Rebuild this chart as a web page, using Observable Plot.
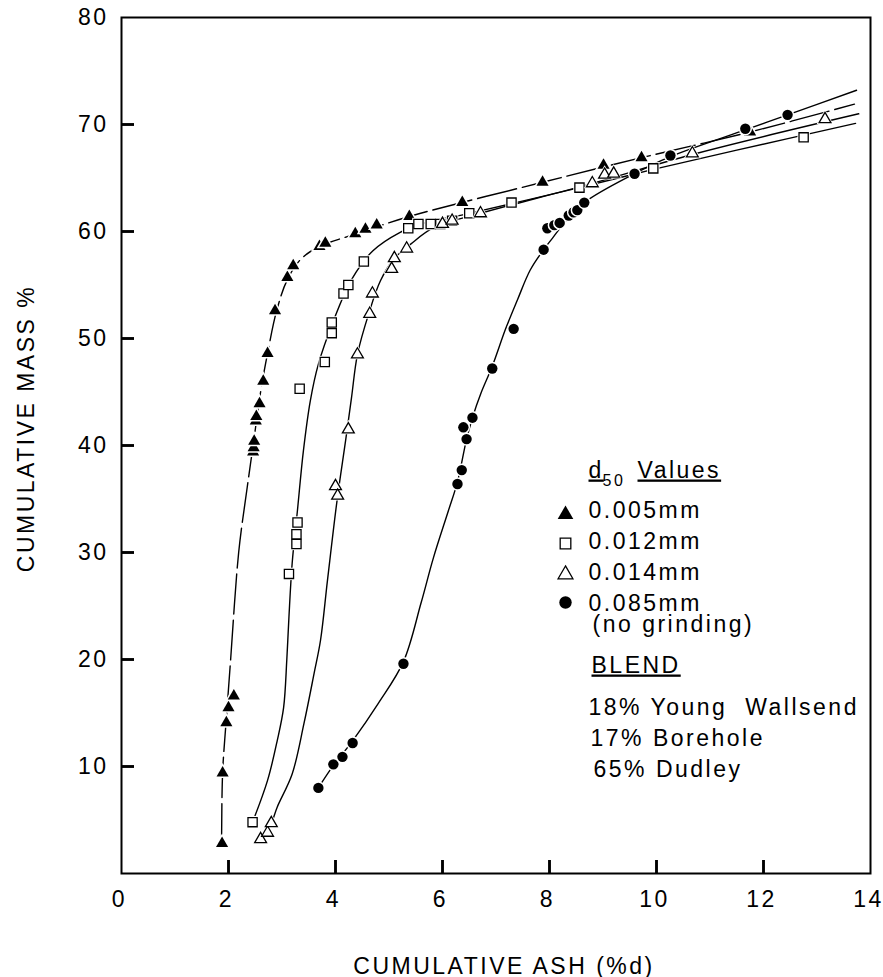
<!DOCTYPE html>
<html>
<head>
<meta charset="utf-8">
<script src="https://cdn.jsdelivr.net/npm/d3@7"></script>
<script src="https://cdn.jsdelivr.net/npm/@observablehq/plot@0.6"></script>
<style>
html, body { margin: 0; padding: 0; background: #fff; }
#chart { width: 883px; height: 977px; overflow: hidden; }
</style>
</head>
<body>
<div id="chart"></div>
<script>
// ---- data ----
const seriesNames = ["0.005mm", "0.012mm", "0.014mm", "0.085mm"];

// measured points (cumulative ash %d, cumulative mass %)
const ash005  = [1.88, 1.89, 1.96, 2.00, 2.10, 2.46, 2.47, 2.48, 2.51, 2.52, 2.58, 2.65, 2.73, 2.87, 3.10, 3.21, 3.70, 3.81, 4.37, 4.56, 4.77, 5.38, 6.37, 7.87, 9.01, 9.72, 11.75];
const mass005 = [2.8, 9.4, 14.1, 15.5, 16.6, 39.4, 39.8, 40.4, 42.3, 42.7, 43.9, 46.0, 48.6, 52.6, 55.7, 56.8, 58.6, 58.9, 59.8, 60.2, 60.6, 61.4, 62.7, 64.6, 66.2, 66.9, 69.3];

const ash012  = [2.45, 3.13, 3.27, 3.27, 3.29, 3.33, 3.80, 3.93, 3.93, 4.15, 4.24, 4.53, 5.36, 5.55, 5.78, 5.96, 6.18, 6.50, 7.29, 8.56, 9.94, 12.75];
const mass012 = [4.8, 28.0, 30.8, 31.7, 32.8, 45.3, 47.8, 50.5, 51.5, 54.2, 55.0, 57.2, 60.3, 60.7, 60.7, 60.7, 61.0, 61.7, 62.7, 64.1, 65.9, 68.8];

const ash014  = [2.60, 2.73, 2.80, 4.00, 4.04, 4.24, 4.41, 4.64, 4.69, 5.05, 5.10, 5.33, 6.00, 6.18, 6.71, 8.80, 9.03, 9.20, 10.67, 13.15];
const mass014 = [3.2, 3.8, 4.7, 36.2, 35.3, 41.5, 48.5, 52.3, 54.2, 56.5, 57.5, 58.4, 60.7, 61.0, 61.7, 64.5, 65.3, 65.4, 67.3, 70.5];

const ash085  = [3.68, 3.96, 4.13, 4.32, 5.27, 6.28, 6.36, 6.45, 6.39, 6.56, 6.93, 7.33, 7.89, 7.96, 8.09, 8.19, 8.36, 8.45, 8.52, 8.65, 9.59, 10.26, 11.66, 12.45];
const mass085 = [8.0, 10.2, 10.9, 12.2, 19.6, 36.4, 37.7, 40.6, 41.7, 42.6, 47.2, 50.9, 58.3, 60.3, 60.6, 60.8, 61.5, 61.8, 62.0, 62.7, 65.4, 67.1, 69.6, 70.9];

// hand-drawn fitted curves
const fit005Ash  = [1.87, 1.89, 1.96, 2.04, 2.19, 2.35, 2.46, 2.60, 2.73, 2.90, 3.10, 3.35, 3.70, 4.40, 5.38, 7.87, 9.72, 11.75, 13.70];
const fit005Mass = [2.8, 9.4, 14.5, 20.0, 30.0, 36.1, 40.0, 45.0, 48.6, 52.6, 55.5, 57.4, 58.6, 59.8, 61.4, 64.6, 66.9, 69.3, 71.9];

const fit012Ash  = [2.45, 2.73, 2.91, 3.03, 3.09, 3.13, 3.19, 3.29, 3.40, 3.53, 3.68, 3.95, 4.30, 4.70, 5.20, 5.60, 6.50, 8.56, 9.94, 11.50, 13.72];
const fit012Mass = [4.8, 8.7, 12.4, 15.5, 20.0, 24.0, 29.0, 34.0, 39.5, 44.2, 47.6, 51.5, 55.5, 58.2, 59.9, 60.7, 61.7, 64.1, 65.8, 67.6, 70.1];

const fit014Ash  = [2.60, 2.80, 2.91, 3.19, 3.41, 3.60, 3.72, 3.85, 4.03, 4.19, 4.30, 4.41, 4.62, 4.84, 5.10, 5.40, 5.85, 6.71, 8.80, 10.67, 13.78];
const fit014Mass = [3.2, 4.7, 6.2, 9.3, 14.0, 18.7, 21.8, 27.4, 34.9, 40.5, 44.5, 48.5, 52.3, 55.4, 57.5, 58.8, 60.4, 61.7, 64.5, 67.2, 71.0];

const fit085Ash  = [3.68, 3.96, 4.32, 4.80, 5.27, 5.60, 5.83, 6.11, 6.28, 6.45, 6.56, 6.72, 6.93, 7.18, 7.40, 7.64, 7.89, 8.06, 8.26, 8.65, 9.59, 10.26, 11.66, 12.45, 13.74];
const fit085Mass = [8.0, 10.1, 12.4, 15.9, 19.8, 25.3, 29.5, 33.9, 36.6, 40.6, 42.6, 44.9, 47.4, 50.9, 53.6, 56.4, 58.3, 59.4, 60.7, 62.7, 65.4, 67.0, 69.5, 70.9, 73.2];

// axes
const xDomain = [0, 14];
const yDomain = [0, 80];
const xTickLabels = [0, 2, 4, 6, 8, 10, 12, 14];
const xTickMarks  = [2, 4, 6, 8, 10, 12];
const yTickLabels = [10, 20, 30, 40, 50, 60, 70, 80];
const yTickMarks  = [10, 20, 30, 40, 50, 60, 70];
const xLabel = "CUMULATIVE ASH (%d)";
const yLabel = "CUMULATIVE MASS %";

// legend texts
const legendTitle = ["d", "50", "Values"];
const legendNote = "(no grinding)";
const blendTitle = "BLEND";
const blendLines = ["18% Young  Wallsend", "17% Borehole", "65% Dudley"];

// ---- build ----
const W = 883, H = 977, ML = 121, MR = 13, MT = 17, MB = 104, TICK = 13;
const frameW = W - ML - MR, frameH = H - MT - MB;
// inward tick length expressed in scale units
const xTickLen = TICK * (xDomain[1] - xDomain[0]) / frameW;
const yTickLen = TICK * (yDomain[1] - yDomain[0]) / frameH;

const styles = [
  {symbol: "triangle", filled: true,  r: 4.5, lr: 5.8, dash: "40,6"},
  {symbol: "square",   filled: false, r: 5.2, lr: 6.0, dash: null},
  {symbol: "triangle", filled: false, r: 4.4, lr: 5.5, dash: null},
  {symbol: "circle",   filled: true,  r: 5.2, lr: 6.2, dash: null}
];
const pointSets = [[ash005, mass005], [ash012, mass012], [ash014, mass014], [ash085, mass085]];
const fitSets = [[fit005Ash, fit005Mass], [fit012Ash, fit012Mass], [fit014Ash, fit014Mass], [fit085Ash, fit085Mass]];
const toRows = ([xs, ys]) => xs.map((x, i) => ({ash: x, mass: ys[i]}));

const lineMarks = fitSets.map((f, k) =>
  Plot.line(toRows(f), {x: "ash", y: "mass", curve: "catmull-rom", stroke: "black", strokeWidth: 1.4,
    strokeDasharray: styles[k].dash || undefined}));

const dotMarks = pointSets.flatMap((p, k) => {
  const s = styles[k], rows = toRows(p);
  if (s.filled) {
    return [Plot.dot(rows, {x: "ash", y: "mass", symbol: s.symbol, r: s.r, fill: "black", stroke: "white", strokeWidth: 3, paintOrder: "stroke"})];
  }
  return [
    Plot.dot(rows, {x: "ash", y: "mass", symbol: s.symbol, r: s.r + 1.8, fill: "white", stroke: "none"}),
    Plot.dot(rows, {x: "ash", y: "mass", symbol: s.symbol, r: s.r, fill: "white", stroke: "black", strokeWidth: 1.3})
  ];
});

const txt = (t, dx, dy, extra = {}) =>
  Plot.text([t], {frameAnchor: "top-left", dx, dy, textAnchor: "start", lineAnchor: "bottom", fill: "black", ...extra});

const legendMarks = [
  txt(legendTitle[0], 467, 460),
  txt(legendTitle[1], 481, 468, {fontSize: 16}),
  txt(legendTitle[2], 516, 460),
  ...seriesNames.map((n, k) => txt(n, 467, 500 + 31 * k)),
  txt(legendNote, 471, 614),
  ...styles.map((s, k) => Plot.dot([k], {frameAnchor: "top-left", dx: 444, dy: [497, 526, 557, 585][k],
      symbol: s.symbol, r: s.lr, fill: s.filled ? "black" : "white", stroke: "black", strokeWidth: s.filled ? 0 : 1.3})),
  txt(blendTitle, 470, 655),
  ...blendLines.map((t, k) => txt(t, [467, 469, 472][k], 697 + 31 * k))
];

const chart = Plot.plot({
  width: W,
  height: H,
  marginLeft: ML,
  marginRight: MR,
  marginTop: MT,
  marginBottom: MB,
  x: {domain: xDomain},
  y: {domain: yDomain},
  style: "font-family: 'Liberation Sans', Arial, sans-serif; font-size: 23px; letter-spacing: 2.5px; background: white; color: black;",
  marks: [
    Plot.axisY(yTickLabels, {anchor: "left", tickSize: 0, tickPadding: 13, label: null}),
    Plot.axisX(xTickLabels, {anchor: "bottom", tickSize: 0, tickPadding: 17, label: null, dx: -2}),
    ...lineMarks,
    ...dotMarks,
    Plot.frame({stroke: "black", strokeWidth: 2}),
    Plot.text([xLabel], {frameAnchor: "bottom", textAnchor: "middle", dx: 8, dy: 100, lineAnchor: "bottom", fill: "black"}),
    Plot.text([yLabel], {frameAnchor: "left", textAnchor: "middle", rotate: -90, dx: -88, dy: -17, lineAnchor: "bottom", fill: "black"}),
    ...legendMarks,
    // inward tick marks, drawn last
    Plot.ruleY(yTickMarks, {y: d => d, x1: xDomain[0], x2: xDomain[0] + xTickLen, stroke: "black", strokeWidth: 2.5}),
    Plot.ruleX(xTickMarks, {x: d => d, y1: yDomain[0], y2: yDomain[0] + yTickLen, stroke: "black", strokeWidth: 2.5}),
    Plot.tickY(yTickMarks, {y: d => d, insetRight: frameW - TICK, stroke: "black", strokeWidth: 2.5}),
    Plot.tickX(xTickMarks, {x: d => d, insetTop: frameH - TICK, stroke: "black", strokeWidth: 2.5})
  ]
});

const underlined = new Set(["d", "Values", "BLEND"]);
chart.querySelectorAll("text").forEach(t => {
  if (underlined.has(t.textContent)) t.setAttribute("text-decoration", "underline");
});

document.getElementById("chart").appendChild(chart);
</script>
</body>
</html>
